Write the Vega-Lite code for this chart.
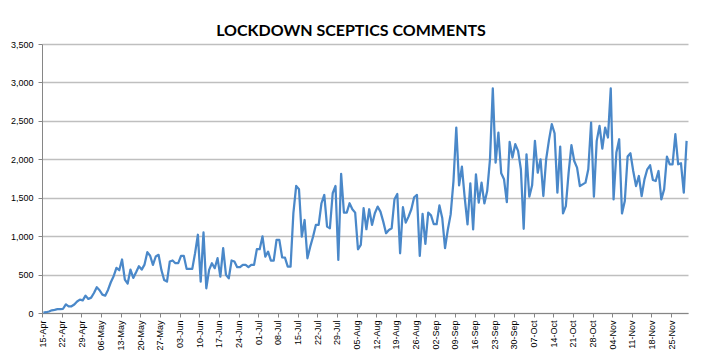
{
  "$schema": "https://vega.github.io/schema/vega-lite/v6.json",
  "width": 646,
  "height": 269,
  "autosize": {"type": "none"},
  "padding": {"left": 42, "top": 44, "right": 13, "bottom": 41},
  "background": "white",
  "title": {
    "text": "LOCKDOWN SCEPTICS COMMENTS",
    "font": "Lato",
    "fontSize": 16,
    "fontWeight": "bold",
    "color": "#000000",
    "anchor": "middle",
    "baseline": "alphabetic",
    "offset": 9,
    "dx": -14,
    "dy": 21
  },
  "config": {"view": {"stroke": null}},
  "data": {
    "values": [
      {"date": "2020-04-15", "comments": 5}, {"date": "2020-04-16", "comments": 10}, {"date": "2020-04-17", "comments": 20}, {"date": "2020-04-18", "comments": 35}, {"date": "2020-04-19", "comments": 40}, {"date": "2020-04-20", "comments": 50}, {"date": "2020-04-21", "comments": 50}, {"date": "2020-04-22", "comments": 55}, {"date": "2020-04-23", "comments": 113}, {"date": "2020-04-24", "comments": 87}, {"date": "2020-04-25", "comments": 87}, {"date": "2020-04-26", "comments": 110}, {"date": "2020-04-27", "comments": 150}, {"date": "2020-04-28", "comments": 174}, {"date": "2020-04-29", "comments": 165}, {"date": "2020-04-30", "comments": 226},
      {"date": "2020-05-01", "comments": 183}, {"date": "2020-05-02", "comments": 200}, {"date": "2020-05-03", "comments": 260}, {"date": "2020-05-04", "comments": 335}, {"date": "2020-05-05", "comments": 296}, {"date": "2020-05-06", "comments": 239}, {"date": "2020-05-07", "comments": 226}, {"date": "2020-05-08", "comments": 300}, {"date": "2020-05-09", "comments": 400}, {"date": "2020-05-10", "comments": 478}, {"date": "2020-05-11", "comments": 587}, {"date": "2020-05-12", "comments": 557}, {"date": "2020-05-13", "comments": 696}, {"date": "2020-05-14", "comments": 435}, {"date": "2020-05-15", "comments": 383}, {"date": "2020-05-16", "comments": 565}, {"date": "2020-05-17", "comments": 457}, {"date": "2020-05-18", "comments": 530}, {"date": "2020-05-19", "comments": 609}, {"date": "2020-05-20", "comments": 565}, {"date": "2020-05-21", "comments": 630}, {"date": "2020-05-22", "comments": 791}, {"date": "2020-05-23", "comments": 745}, {"date": "2020-05-24", "comments": 626}, {"date": "2020-05-25", "comments": 735}, {"date": "2020-05-26", "comments": 757}, {"date": "2020-05-27", "comments": 561}, {"date": "2020-05-28", "comments": 430}, {"date": "2020-05-29", "comments": 409}, {"date": "2020-05-30", "comments": 670}, {"date": "2020-05-31", "comments": 683},
      {"date": "2020-06-01", "comments": 648}, {"date": "2020-06-02", "comments": 648}, {"date": "2020-06-03", "comments": 743}, {"date": "2020-06-04", "comments": 743}, {"date": "2020-06-05", "comments": 574}, {"date": "2020-06-06", "comments": 574}, {"date": "2020-06-07", "comments": 574}, {"date": "2020-06-08", "comments": 779}, {"date": "2020-06-09", "comments": 1018}, {"date": "2020-06-10", "comments": 409}, {"date": "2020-06-11", "comments": 1048}, {"date": "2020-06-12", "comments": 322}, {"date": "2020-06-13", "comments": 561}, {"date": "2020-06-14", "comments": 648}, {"date": "2020-06-15", "comments": 583}, {"date": "2020-06-16", "comments": 713}, {"date": "2020-06-17", "comments": 474}, {"date": "2020-06-18", "comments": 844}, {"date": "2020-06-19", "comments": 496}, {"date": "2020-06-20", "comments": 452}, {"date": "2020-06-21", "comments": 683}, {"date": "2020-06-22", "comments": 670}, {"date": "2020-06-23", "comments": 596}, {"date": "2020-06-24", "comments": 596}, {"date": "2020-06-25", "comments": 626}, {"date": "2020-06-26", "comments": 626}, {"date": "2020-06-27", "comments": 596}, {"date": "2020-06-28", "comments": 626}, {"date": "2020-06-29", "comments": 626}, {"date": "2020-06-30", "comments": 831},
      {"date": "2020-07-01", "comments": 831}, {"date": "2020-07-02", "comments": 996}, {"date": "2020-07-03", "comments": 733}, {"date": "2020-07-04", "comments": 798}, {"date": "2020-07-05", "comments": 681}, {"date": "2020-07-06", "comments": 681}, {"date": "2020-07-07", "comments": 950}, {"date": "2020-07-08", "comments": 950}, {"date": "2020-07-09", "comments": 725}, {"date": "2020-07-10", "comments": 720}, {"date": "2020-07-11", "comments": 603}, {"date": "2020-07-12", "comments": 603}, {"date": "2020-07-13", "comments": 1298}, {"date": "2020-07-14", "comments": 1653}, {"date": "2020-07-15", "comments": 1610}, {"date": "2020-07-16", "comments": 993}, {"date": "2020-07-17", "comments": 1210}, {"date": "2020-07-18", "comments": 712}, {"date": "2020-07-19", "comments": 863}, {"date": "2020-07-20", "comments": 993}, {"date": "2020-07-21", "comments": 1146}, {"date": "2020-07-22", "comments": 1146}, {"date": "2020-07-23", "comments": 1428}, {"date": "2020-07-24", "comments": 1536}, {"date": "2020-07-25", "comments": 1124}, {"date": "2020-07-26", "comments": 1103}, {"date": "2020-07-27", "comments": 1558}, {"date": "2020-07-28", "comments": 1653}, {"date": "2020-07-29", "comments": 690}, {"date": "2020-07-30", "comments": 1810}, {"date": "2020-07-31", "comments": 1306},
      {"date": "2020-08-01", "comments": 1306}, {"date": "2020-08-02", "comments": 1428}, {"date": "2020-08-03", "comments": 1350}, {"date": "2020-08-04", "comments": 1306}, {"date": "2020-08-05", "comments": 829}, {"date": "2020-08-06", "comments": 885}, {"date": "2020-08-07", "comments": 1363}, {"date": "2020-08-08", "comments": 1090}, {"date": "2020-08-09", "comments": 1350}, {"date": "2020-08-10", "comments": 1146}, {"date": "2020-08-11", "comments": 1298}, {"date": "2020-08-12", "comments": 1384}, {"date": "2020-08-13", "comments": 1319}, {"date": "2020-08-14", "comments": 1189}, {"date": "2020-08-15", "comments": 1038}, {"date": "2020-08-16", "comments": 1081}, {"date": "2020-08-17", "comments": 1103}, {"date": "2020-08-18", "comments": 1480}, {"date": "2020-08-19", "comments": 1549}, {"date": "2020-08-20", "comments": 777}, {"date": "2020-08-21", "comments": 1376}, {"date": "2020-08-22", "comments": 1176}, {"date": "2020-08-23", "comments": 1254}, {"date": "2020-08-24", "comments": 1350}, {"date": "2020-08-25", "comments": 1506}, {"date": "2020-08-26", "comments": 1536}, {"date": "2020-08-27", "comments": 742}, {"date": "2020-08-28", "comments": 1289}, {"date": "2020-08-29", "comments": 898}, {"date": "2020-08-30", "comments": 1306}, {"date": "2020-08-31", "comments": 1270},
      {"date": "2020-09-01", "comments": 1155}, {"date": "2020-09-02", "comments": 1155}, {"date": "2020-09-03", "comments": 1400}, {"date": "2020-09-04", "comments": 1236}, {"date": "2020-09-05", "comments": 845}, {"date": "2020-09-06", "comments": 1087}, {"date": "2020-09-07", "comments": 1283}, {"date": "2020-09-08", "comments": 1717}, {"date": "2020-09-09", "comments": 2413}, {"date": "2020-09-10", "comments": 1661}, {"date": "2020-09-11", "comments": 1904}, {"date": "2020-09-12", "comments": 1500}, {"date": "2020-09-13", "comments": 1152}, {"date": "2020-09-14", "comments": 1687}, {"date": "2020-09-15", "comments": 1087}, {"date": "2020-09-16", "comments": 1804}, {"date": "2020-09-17", "comments": 1435}, {"date": "2020-09-18", "comments": 1696}, {"date": "2020-09-19", "comments": 1426}, {"date": "2020-09-20", "comments": 1587}, {"date": "2020-09-21", "comments": 2000}, {"date": "2020-09-22", "comments": 2922}, {"date": "2020-09-23", "comments": 1957}, {"date": "2020-09-24", "comments": 2348}, {"date": "2020-09-25", "comments": 1817}, {"date": "2020-09-26", "comments": 1739}, {"date": "2020-09-27", "comments": 1443}, {"date": "2020-09-28", "comments": 2226}, {"date": "2020-09-29", "comments": 2022}, {"date": "2020-09-30", "comments": 2196},
      {"date": "2020-10-01", "comments": 2109}, {"date": "2020-10-02", "comments": 1870}, {"date": "2020-10-03", "comments": 1096}, {"date": "2020-10-04", "comments": 2065}, {"date": "2020-10-05", "comments": 1513}, {"date": "2020-10-06", "comments": 1661}, {"date": "2020-10-07", "comments": 2239}, {"date": "2020-10-08", "comments": 1826}, {"date": "2020-10-09", "comments": 2000}, {"date": "2020-10-10", "comments": 1522}, {"date": "2020-10-11", "comments": 2000}, {"date": "2020-10-12", "comments": 2250}, {"date": "2020-10-13", "comments": 2457}, {"date": "2020-10-14", "comments": 2339}, {"date": "2020-10-15", "comments": 1565}, {"date": "2020-10-16", "comments": 2165}, {"date": "2020-10-17", "comments": 1296}, {"date": "2020-10-18", "comments": 1391}, {"date": "2020-10-19", "comments": 1826}, {"date": "2020-10-20", "comments": 2183}, {"date": "2020-10-21", "comments": 1978}, {"date": "2020-10-22", "comments": 1891}, {"date": "2020-10-23", "comments": 1652}, {"date": "2020-10-24", "comments": 1674}, {"date": "2020-10-25", "comments": 1696}, {"date": "2020-10-26", "comments": 1870}, {"date": "2020-10-27", "comments": 2478}, {"date": "2020-10-28", "comments": 1513}, {"date": "2020-10-29", "comments": 2239}, {"date": "2020-10-30", "comments": 2435}, {"date": "2020-10-31", "comments": 2139},
      {"date": "2020-11-01", "comments": 2413}, {"date": "2020-11-02", "comments": 2283}, {"date": "2020-11-03", "comments": 2922}, {"date": "2020-11-04", "comments": 1478}, {"date": "2020-11-05", "comments": 2087}, {"date": "2020-11-06", "comments": 2261}, {"date": "2020-11-07", "comments": 1296}, {"date": "2020-11-08", "comments": 1457}, {"date": "2020-11-09", "comments": 2035}, {"date": "2020-11-10", "comments": 2078}, {"date": "2020-11-11", "comments": 1848}, {"date": "2020-11-12", "comments": 1652}, {"date": "2020-11-13", "comments": 1783}, {"date": "2020-11-14", "comments": 1522}, {"date": "2020-11-15", "comments": 1739}, {"date": "2020-11-16", "comments": 1870}, {"date": "2020-11-17", "comments": 1922}, {"date": "2020-11-18", "comments": 1730}, {"date": "2020-11-19", "comments": 1717}, {"date": "2020-11-20", "comments": 1848}, {"date": "2020-11-21", "comments": 1478}, {"date": "2020-11-22", "comments": 1609}, {"date": "2020-11-23", "comments": 2035}, {"date": "2020-11-24", "comments": 1935}, {"date": "2020-11-25", "comments": 1935}, {"date": "2020-11-26", "comments": 2326}, {"date": "2020-11-27", "comments": 1935}, {"date": "2020-11-28", "comments": 1948}, {"date": "2020-11-29", "comments": 1565}, {"date": "2020-11-30", "comments": 2239}
    ]
  },
  "mark": {"type": "line", "color": "#4A88C9", "strokeWidth": 2.25, "strokeJoin": "round"},
  "encoding": {
    "x": {
      "field": "date",
      "type": "temporal",
      "timeUnit": "utcyearmonthdate",
      "bandPosition": 0.5,
      "scale": {
        "type": "utc",
        "nice": false,
        "domain": [
          {"year": 2020, "month": 4, "date": 15, "utc": true},
          {"year": 2020, "month": 12, "date": 1, "utc": true}
        ]
      },
      "axis": {
        "title": null,
        "grid": false,
        "labelExpr": "(utcdate(datum.value) < 10 ? '0' : '') + utcdate(datum.value) + '-' + ['Jan','Feb','Mar','Apr','May','Jun','Jul','Aug','Sep','Oct','Nov','Dec'][utcmonth(datum.value)]",
        "labelAngle": -90,
        "labelFont": "Liberation Sans",
        "labelFontSize": 9,
        "labelColor": "#000000",
        "labelPadding": 3,
        "labelOverlap": false,
        "tickSize": 4,
        "tickColor": "#868686",
        "domainColor": "#868686",
        "values": [
          {"year": 2020, "month": 4, "date": 15, "utc": true}, {"year": 2020, "month": 4, "date": 22, "utc": true}, {"year": 2020, "month": 4, "date": 29, "utc": true},
          {"year": 2020, "month": 5, "date": 6, "utc": true}, {"year": 2020, "month": 5, "date": 13, "utc": true}, {"year": 2020, "month": 5, "date": 20, "utc": true}, {"year": 2020, "month": 5, "date": 27, "utc": true},
          {"year": 2020, "month": 6, "date": 3, "utc": true}, {"year": 2020, "month": 6, "date": 10, "utc": true}, {"year": 2020, "month": 6, "date": 17, "utc": true}, {"year": 2020, "month": 6, "date": 24, "utc": true},
          {"year": 2020, "month": 7, "date": 1, "utc": true}, {"year": 2020, "month": 7, "date": 8, "utc": true}, {"year": 2020, "month": 7, "date": 15, "utc": true}, {"year": 2020, "month": 7, "date": 22, "utc": true}, {"year": 2020, "month": 7, "date": 29, "utc": true},
          {"year": 2020, "month": 8, "date": 5, "utc": true}, {"year": 2020, "month": 8, "date": 12, "utc": true}, {"year": 2020, "month": 8, "date": 19, "utc": true}, {"year": 2020, "month": 8, "date": 26, "utc": true},
          {"year": 2020, "month": 9, "date": 2, "utc": true}, {"year": 2020, "month": 9, "date": 9, "utc": true}, {"year": 2020, "month": 9, "date": 16, "utc": true}, {"year": 2020, "month": 9, "date": 23, "utc": true}, {"year": 2020, "month": 9, "date": 30, "utc": true},
          {"year": 2020, "month": 10, "date": 7, "utc": true}, {"year": 2020, "month": 10, "date": 14, "utc": true}, {"year": 2020, "month": 10, "date": 21, "utc": true}, {"year": 2020, "month": 10, "date": 28, "utc": true},
          {"year": 2020, "month": 11, "date": 4, "utc": true}, {"year": 2020, "month": 11, "date": 11, "utc": true}, {"year": 2020, "month": 11, "date": 18, "utc": true}, {"year": 2020, "month": 11, "date": 25, "utc": true}
        ]
      }
    },
    "y": {
      "field": "comments",
      "type": "quantitative",
      "scale": {"domain": [0, 3500], "nice": false},
      "axis": {
        "title": null,
        "values": [0, 500, 1000, 1500, 2000, 2500, 3000, 3500],
        "labelExpr": "datum.value < 1000 ? '' + datum.value : floor(datum.value / 1000) + ',' + (datum.value % 1000 == 0 ? '000' : '500')",
        "grid": true,
        "gridColor": "#BFBFBF",
        "gridWidth": 1.5,
        "labelFont": "Liberation Sans",
        "labelFontSize": 9,
        "labelColor": "#000000",
        "labelPadding": 5,
        "tickSize": 4,
        "tickColor": "#868686",
        "domainColor": "#868686"
      }
    }
  }
}
